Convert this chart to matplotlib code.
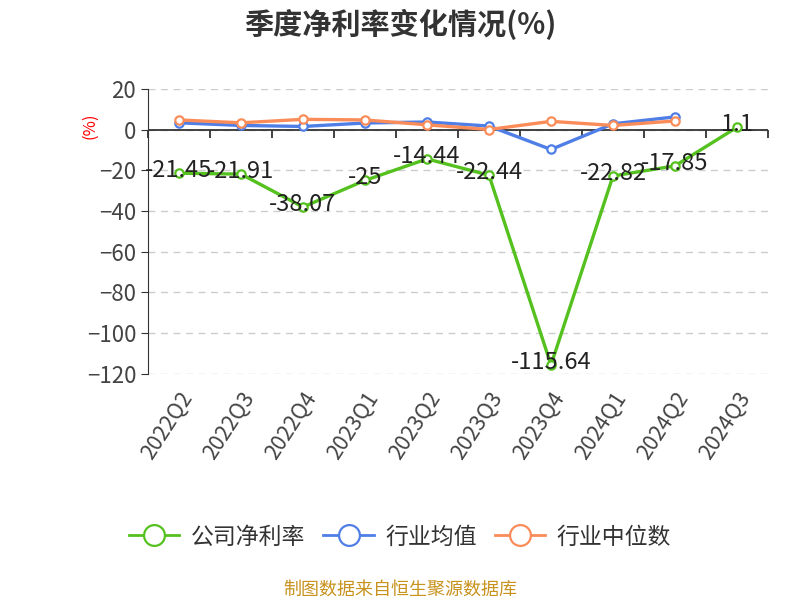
import matplotlib.pyplot as plt
from matplotlib.lines import Line2D
from matplotlib.markers import TICKDOWN

plt.rcParams['font.family'] = ['Noto Sans CJK SC', 'DejaVu Sans']

quarters = ['2022Q2', '2022Q3', '2022Q4', '2023Q1', '2023Q2', '2023Q3',
            '2023Q4', '2024Q1', '2024Q2', '2024Q3']
company = [-21.45, -21.91, -38.07, -25, -14.44, -22.44, -115.64, -22.82, -17.85, 1.1]
industry_avg = [3.3, 2.0, 1.5, 3.2, 3.7, 1.7, -9.8, 2.8, 6.2]
industry_median = [4.7, 3.3, 5.0, 4.7, 2.3, 0.0, 4.0, 2.0, 4.2]

GREEN = '#55c11f'
BLUE = '#4f7fe6'
ORANGE = '#fa8c5a'

fig = plt.figure(figsize=(8, 6), dpi=100)
ax = fig.add_axes([0.185, 0.377, 0.775, 0.475])

x = list(range(len(quarters)))

def draw(ys, color, z):
    ax.plot(x[:len(ys)], ys, color=color, lw=2.4, marker='o', ms=6,
            mfc='white', mec=color, mew=1.6, zorder=z, clip_on=False)

draw(industry_avg, BLUE, 3)
draw(industry_median, ORANGE, 4)
draw(company, GREEN, 5)

for xi, v in zip(x, company):
    ax.annotate(f'{v:g}', (xi, v), xytext=(0, 2), textcoords='offset points',
                ha='center', va='center', fontsize=17, color='#222222', zorder=6)

ax.set_xlim(-0.5, len(quarters) - 0.5)
ax.set_ylim(-120, 20)
ax.set_yticks(range(-120, 21, 20))
ax.tick_params(axis='y', labelsize=16, labelcolor='#444444', length=5,
               color='#333333')
ax.yaxis.grid(True, ls=(0, (5, 4)), color='#cccccc', lw=1)
ax.set_axisbelow(True)

for s in ['top', 'right', 'bottom']:
    ax.spines[s].set_visible(False)
ax.spines['left'].set_color('#333333')

# category labels at bottom
ax.set_xticks(x)
ax.set_xticklabels(quarters, rotation=57, ha='right', rotation_mode='anchor',
                   fontsize=15.5, color='#444444')
ax.tick_params(axis='x', length=0, pad=10)

# axis line at zero with ticks between categories
ax.axhline(0, color='#333333', lw=1.3, zorder=2.5)
bounds = [i - 0.5 for i in range(len(quarters) + 1)]
ax.plot(bounds, [0] * len(bounds), ls='none', marker=TICKDOWN, ms=6,
        mew=1.3, color='#333333', zorder=2.5, clip_on=False)

fig.text(0.112, 0.79, '(%)', color='red', rotation=90, fontsize=12,
         ha='center', va='center')

fig.suptitle('季度净利率变化情况(%)', y=0.985, fontsize=21, fontweight='bold',
             color='#333333')

handles = [Line2D([0], [0], color=c, lw=2, marker='o', ms=15, mfc='white',
                  mec=c, mew=1.6) for c in (GREEN, BLUE, ORANGE)]
fig.legend(handles, ['公司净利率', '行业均值', '行业中位数'], loc='center',
           bbox_to_anchor=(0.5, 0.105), ncol=3, frameon=False, fontsize=16.5,
           handlelength=2.2, columnspacing=0.8, handletextpad=0.5,
           labelcolor='#333333')

fig.text(0.5, 0.017, '制图数据来自恒生聚源数据库', ha='center', va='center',
         fontsize=13, color='#c8921e')

fig.savefig('out.png', dpi=100)
